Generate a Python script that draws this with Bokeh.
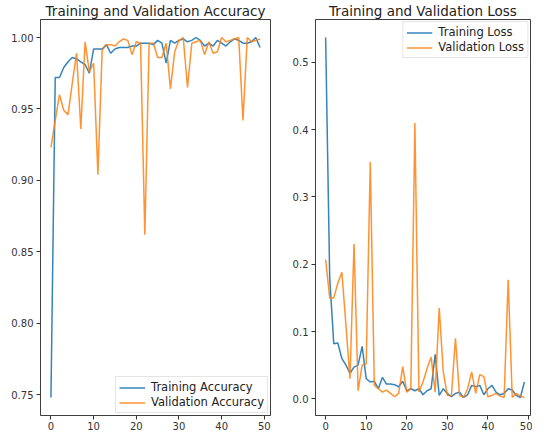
from bokeh.plotting import figure
from bokeh.layouts import row
from bokeh.models import FixedTicker, NumeralTickFormatter, Range1d, Legend, LegendItem
from bokeh.embed import file_html
from bokeh.resources import INLINE

epochs = list(range(50))

train_acc = [0.748, 0.972, 0.972, 0.979, 0.983, 0.986, 0.985, 0.983, 0.981, 0.975,
             0.992, 0.992, 0.992, 0.995, 0.989, 0.992, 0.993, 0.993, 0.993, 0.994,
             0.994, 0.996, 0.996, 0.996, 0.995, 0.998, 0.996, 0.982, 0.998, 0.996,
             0.998, 0.999, 0.997, 0.998, 1.000, 0.998, 0.994, 0.996, 0.994, 0.998,
             0.996, 0.994, 0.997, 0.999, 0.998, 0.996, 0.996, 0.997, 1.000, 0.993]
val_acc = [0.923, 0.942, 0.960, 0.949, 0.946, 0.968, 0.989, 0.936, 0.997, 0.976,
           0.982, 0.904, 0.991, 0.995, 0.995, 0.994, 0.997, 0.999, 0.998, 0.988,
           0.997, 0.996, 0.862, 0.996, 0.996, 0.986, 0.986, 0.996, 0.964, 0.990,
           0.998, 1.000, 0.965, 0.996, 0.997, 0.998, 0.988, 0.997, 0.989, 0.990,
           1.000, 0.997, 0.998, 0.999, 1.000, 0.942, 1.000, 0.997, 0.998, 0.999]
train_loss = [0.537, 0.180, 0.082, 0.083, 0.060, 0.050, 0.038, 0.047, 0.050, 0.078,
              0.030, 0.025, 0.026, 0.015, 0.032, 0.022, 0.022, 0.021, 0.018, 0.026,
              0.012, 0.015, 0.012, 0.015, 0.006, 0.012, 0.015, 0.066, 0.005, 0.015,
              0.008, 0.003, 0.008, 0.010, 0.002, 0.006, 0.020, 0.018, 0.020, 0.006,
              0.015, 0.020, 0.010, 0.006, 0.008, 0.015, 0.013, 0.005, 0.002, 0.025]
val_loss = [0.207, 0.150, 0.150, 0.172, 0.188, 0.110, 0.030, 0.230, 0.012, 0.050,
            0.052, 0.352, 0.020, 0.015, 0.010, 0.013, 0.008, 0.003, 0.008, 0.048,
            0.010, 0.015, 0.410, 0.010, 0.025, 0.045, 0.062, 0.010, 0.135, 0.040,
            0.005, 0.005, 0.090, 0.005, 0.002, 0.015, 0.040, 0.008, 0.036, 0.033,
            0.003, 0.005, 0.008, 0.004, 0.002, 0.177, 0.002, 0.008, 0.004, 0.002]

x_ticks = [0, 10, 20, 30, 40, 50]
acc_ticks = [0.75, 0.80, 0.85, 0.90, 0.95, 1.00]
loss_ticks = [0.0, 0.1, 0.2, 0.3, 0.4, 0.5]

BLUE = "#1f77b4"
ORANGE = "#ff7f0e"
FONT = "DejaVu Sans"


def style(p, yticks, yfmt):
    p.outline_line_color = "black"
    p.outline_line_alpha = 0.75
    p.outline_line_width = 1
    p.xgrid.visible = False
    p.ygrid.visible = False
    p.title.text_font = FONT
    p.title.text_font_size = "13.5px"
    p.title.text_font_style = "normal"
    p.title.text_color = "#222222"
    p.title.align = "center"
    p.title.standoff = 1
    for ax in (p.xaxis[0], p.yaxis[0]):
        ax.axis_line_color = None
        ax.major_tick_in = 0
        ax.major_tick_out = 4
        ax.major_tick_line_color = "#333333"
        ax.minor_tick_line_color = None
        ax.major_label_text_font = FONT
        ax.major_label_text_font_size = "10px"
        ax.major_label_text_color = "#333333"
        ax.major_label_standoff = 3
    p.xaxis[0].ticker = FixedTicker(ticks=x_ticks)
    p.xaxis[0].major_label_standoff = 2
    p.yaxis[0].ticker = FixedTicker(ticks=yticks)
    p.yaxis[0].formatter = NumeralTickFormatter(format=yfmt)
    p.background_fill_color = "white"
    p.border_fill_color = "white"


p1 = figure(width=282, height=432, output_backend="svg", toolbar_location=None,
            title="Training and Validation Accuracy",
            x_range=Range1d(-2.45, 51.45), y_range=Range1d(0.7354, 1.0126),
            min_border_left=40, min_border_right=12, min_border_top=0, min_border_bottom=0)
style(p1, acc_ticks, "0.00")
r1 = p1.line(epochs, train_acc, line_color=BLUE, line_width=1.5, line_alpha=0.9)
r2 = p1.line(epochs, val_acc, line_color=ORANGE, line_width=1.5, line_alpha=0.85)
leg1 = Legend(items=[LegendItem(label="Training Accuracy", renderers=[r1]),
                     LegendItem(label="Validation Accuracy", renderers=[r2])],
              location="bottom_right")
p1.add_layout(leg1, "center")

p2 = figure(width=250, height=432, output_backend="svg", toolbar_location=None,
            title="Training and Validation Loss",
            x_range=Range1d(-2.5, 50.5), y_range=Range1d(-0.0248, 0.5638),
            min_border_left=33, min_border_right=2, min_border_top=0, min_border_bottom=0)
style(p2, loss_ticks, "0.0")
r3 = p2.line(epochs, train_loss, line_color=BLUE, line_width=1.5, line_alpha=0.9)
r4 = p2.line(epochs, val_loss, line_color=ORANGE, line_width=1.5, line_alpha=0.85)
leg2 = Legend(items=[LegendItem(label="Training Loss", renderers=[r3]),
                     LegendItem(label="Validation Loss", renderers=[r4])],
              location="top_right")
p2.add_layout(leg2, "center")

for lg in (leg1, leg2):
    lg.label_text_font = FONT
    lg.label_text_font_size = "11.5px"
    lg.label_text_color = "#222222"
    lg.label_height = 13
    lg.glyph_height = 13
    lg.glyph_width = 26
    lg.label_standoff = 6
    lg.spacing = 1
    lg.padding = 3
    lg.margin = 2
    lg.border_line_color = "#cccccc"
    lg.background_fill_alpha = 0.8

layout = row(p1, p2)
open("out.html", "w").write(file_html(layout, INLINE))
